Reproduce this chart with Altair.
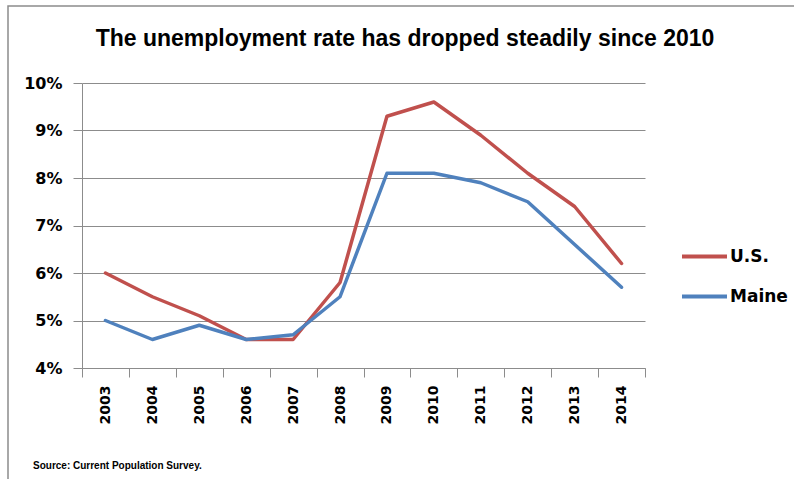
import altair as alt
import pandas as pd

years = ["2003", "2004", "2005", "2006", "2007", "2008", "2009", "2010", "2011", "2012", "2013", "2014"]
us = [6.0, 5.5, 5.1, 4.6, 4.6, 5.8, 9.3, 9.6, 8.9, 8.1, 7.4, 6.2]
maine = [5.0, 4.6, 4.9, 4.6, 4.7, 5.5, 8.1, 8.1, 7.9, 7.5, 6.6, 5.7]
series = ["U.S.", "Maine"]
colors = ["#C0504D", "#4F81BD"]
y_ticks = [4, 5, 6, 7, 8, 9, 10]
title_text = "The unemployment  rate has dropped steadily since 2010"
source_text = "Source: Current Population Survey."

rows = []
for name, vals in zip(series, [us, maine]):
    for yr, v in zip(years, vals):
        rows.append({"year": yr, "rate": v, "series": name})
df = pd.DataFrame(rows)

AX_FONT = "DejaVu Sans"
GRID = "#8c8c8c"

lines = alt.Chart(df).mark_line(strokeWidth=3.5, strokeCap="round", strokeJoin="round").encode(
    x=alt.X("year:N", sort=years, title=None,
            scale=alt.Scale(paddingInner=0, paddingOuter=0),
            axis=alt.Axis(labelAngle=270, labelFont=AX_FONT, labelFontWeight="bold",
                          labelFontSize=14, labelColor="black", tickBand="extent",
                          tickSize=9, tickColor=GRID, domainColor=GRID, labelPadding=8,
                          grid=False)),
    y=alt.Y("rate:Q", title=None,
            scale=alt.Scale(domain=[4, 10], nice=False, zero=False),
            axis=alt.Axis(values=y_ticks, labelExpr="datum.value + '%'",
                          labelFont=AX_FONT, labelFontWeight="bold", labelFontSize=16,
                          labelColor="black", tickSize=9, tickColor=GRID,
                          domainColor=GRID, gridColor=GRID, gridOpacity=1,
                          labelPadding=11)),
    color=alt.Color("series:N", sort=series,
                    scale=alt.Scale(domain=series, range=colors),
                    legend=alt.Legend(title=None, orient="none", legendX=598, legendY=149,
                                      symbolType="stroke", symbolSize=2025,
                                      symbolStrokeWidth=4, labelFont=AX_FONT,
                                      labelFontWeight="bold", labelFontSize=17,
                                      labelColor="black", labelOffset=1,
                                      rowPadding=7)),
)

border = alt.Chart(pd.DataFrame({"a": [0]})).mark_rect(
    fill=None, stroke="#8c8c8c", strokeWidth=1.5
).encode(x=alt.value(-74), x2=alt.value(800), y=alt.value(-77), y2=alt.value(500))

title = alt.Chart(pd.DataFrame({"t": [title_text]})).mark_text(
    align="center", baseline="alphabetic", font="Liberation Sans",
    fontWeight="bold", fontSize=23, color="black"
).encode(text="t:N", x=alt.value(323), y=alt.value(-37))

source = alt.Chart(pd.DataFrame({"t": [source_text]})).mark_text(
    align="left", baseline="alphabetic", font="Liberation Sans",
    fontWeight="bold", fontSize=10, color="black"
).encode(text="t:N", x=alt.value(-49), y=alt.value(386))

chart = alt.layer(border, lines, title, source).properties(
    width=563, height=285,
    autosize=alt.AutoSizeParams(type="none"),
    padding={"left": 82, "top": 83, "right": 149, "bottom": 111},
).configure_view(stroke=None)

chart.save("out.html", embed_options={"renderer": "svg", "actions": False})
